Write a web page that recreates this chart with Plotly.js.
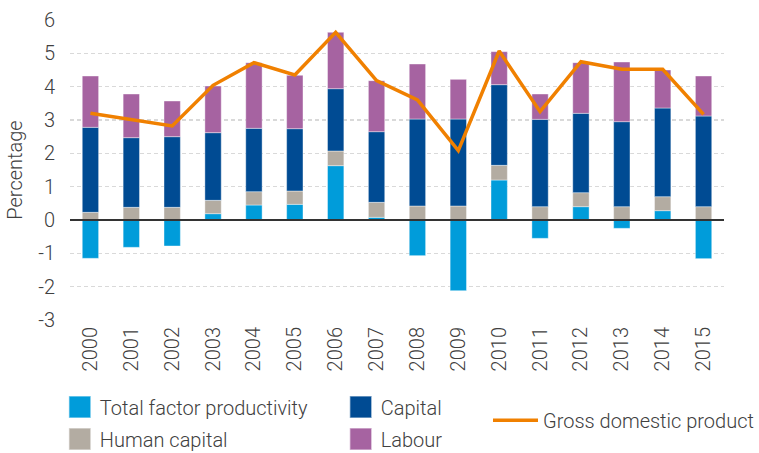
<!DOCTYPE html>
<html>
<head>
<meta charset="utf-8">
<script src="https://cdn.plot.ly/plotly-3.0.1.min.js"></script>
<style>html,body{margin:0;padding:0;background:#fff;}#chart{width:759px;height:453px;}</style>
</head>
<body>
<div id="chart"></div>
<script>
const years = ['2000','2001','2002','2003','2004','2005','2006','2007','2008','2009','2010','2011','2012','2013','2014','2015'];
const tfp     = [-1.15,-0.82,-0.78, 0.19, 0.45, 0.47, 1.63, 0.08,-1.07,-2.12, 1.20,-0.55, 0.40,-0.25, 0.28,-1.16];
const human   = [ 0.23, 0.38, 0.38, 0.40, 0.40, 0.40, 0.44, 0.45, 0.42, 0.42, 0.44, 0.40, 0.42, 0.40, 0.42, 0.40];
const capital = [ 2.55, 2.09, 2.12, 2.03, 1.90, 1.87, 1.87, 2.12, 2.61, 2.61, 2.42, 2.62, 2.38, 2.55, 2.66, 2.72];
const labour  = [ 1.54, 1.31, 1.07, 1.40, 1.97, 1.60, 1.69, 1.53, 1.65, 1.19, 0.99, 0.76, 1.52, 1.79, 1.14, 1.20];
const gdp     = [ 3.20, 3.00, 2.82, 4.04, 4.72, 4.35, 5.63, 4.18, 3.60, 2.08, 5.07, 3.25, 4.75, 4.52, 4.52, 3.17];
const yTickVals = [6,5,4,3,2,1,0,-1,-2,-3];
const yTickText = ['6','5','4','3','2','1','0','-1','-2','-3'];

const FONT = 'Roboto, sans-serif';
const TXT = '#404040';
const edge = {color:'rgba(255,255,255,0.5)', width:0.8};

const traces = [
  {type:'bar', name:'Total factor productivity', x:years, y:tfp, marker:{color:'#009cda', line:edge}, legend:'legend'},
  {type:'bar', name:'Human capital', x:years, y:human, marker:{color:'#b3aca2', line:edge}, legend:'legend3'},
  {type:'bar', name:'Capital', x:years, y:capital, marker:{color:'#004b93', line:edge}, legend:'legend2'},
  {type:'bar', name:'Labour', x:years, y:labour, marker:{color:'#a663a1', line:edge}, legend:'legend4'},
  {type:'scatter', mode:'lines', name:'Gross domestic product', x:years, y:gdp, line:{color:'#f08000', width:3.5}, legend:'legend5'}
];

function leg(xp, yp, extra){
  return Object.assign({x:xp, y:yp, xref:'paper', yref:'container', xanchor:'left', yanchor:'middle', bgcolor:'rgba(0,0,0,0)',
    font:{family:FONT, size:20, color:TXT, weight:300}}, extra||{});
}

const layout = {
  width:759, height:453,
  margin:{l:70, r:35, t:20, b:133},
  paper_bgcolor:'#fff', plot_bgcolor:'#fff',
  font:{family:FONT, size:20, color:TXT, weight:300},
  barmode:'relative', bargap:0.6,
  showlegend:true,
  xaxis:{type:'category', tickangle:-90, showgrid:false, zeroline:false, showline:false, ticks:'',
    ticklabelstandoff:2, automargin:false,
    tickfont:{family:FONT, size:20, color:TXT, weight:300}},
  yaxis:{range:[-3,6], tickvals:yTickVals, ticktext:yTickText, showgrid:true, gridcolor:'#d9d9d9', gridwidth:1.5,
    griddash:'4px,3px', zeroline:true, zerolinecolor:'#333', zerolinewidth:2, zerolinelayer:'above traces',
    showline:false, ticks:'', ticklabelstandoff:14, automargin:false,
    title:{text:'Percentage', font:{family:FONT, size:20, color:TXT, weight:300}, standoff:10},
    tickfont:{family:FONT, size:20, color:TXT, weight:300}},
  legend: leg(-0.0155, 0.1015),
  legend2: leg(0.414, 0.1015),
  legend3: leg(-0.0155, 0.0309),
  legend4: leg(0.414, 0.0309),
  legend5: leg(0.642, 0.0722, {itemwidth:45})
};

Plotly.newPlot('chart', traces, layout, {displayModeBar:false, staticPlot:true}).then(function(gd){
  // enlarge the bar swatches in the legends to match the reference size
  gd.querySelectorAll('.legendpoints path.legendundefined, .legendpoints path.legendbar').forEach(function(p){
    var t = p.getAttribute('transform') || '';
    p.setAttribute('transform', t + ' scale(1.83)');
  });
});
</script>
</body>
</html>
